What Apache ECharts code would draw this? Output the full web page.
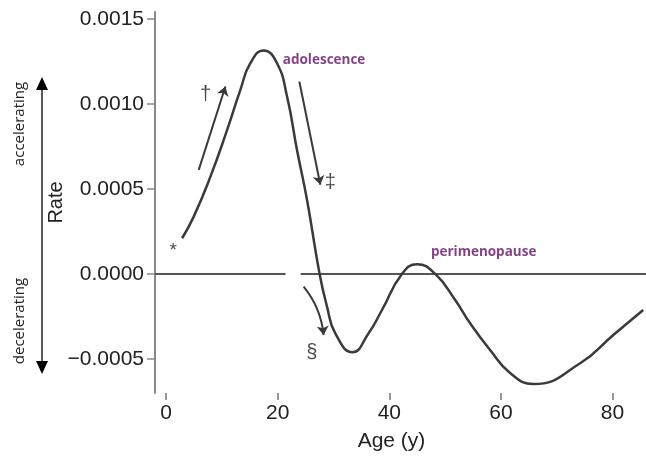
<!DOCTYPE html>
<html>
<head>
<meta charset="utf-8">
<script src="https://cdn.jsdelivr.net/npm/echarts@6/dist/echarts.min.js"></script>
<style>html,body{margin:0;padding:0;background:#fff}#c{width:646px;height:466px}</style>
</head>
<body>
<div id="c"></div>
<script>
// Curve samples
const ages  = [2.86, 4.94, 7.93, 10.93, 13.3, 15.09, 17.48, 19.87, 21.67, 23.45, 25.25, 27.5, 28.83, 30.31, 33.4, 36.28, 38.68, 42.26, 45.0, 48.22, 51.8, 54.48, 58.06, 61.64, 65.82, 74.2, 80.14, 85.5];
const rates = [0.00021, 0.000337, 0.000572, 0.000847, 0.001082, 0.001239, 0.001314, 0.001239, 0.001043, 0.000729, 0.000435, 0, -0.000192, -0.000349, -0.00046, -0.000349, -0.000212, 0, 0.000057, 0, -0.000153, -0.00029, -0.000447, -0.000582, -0.000647, -0.000525, -0.000359, -0.000212];
const xTicks = [0, 20, 40, 60, 80];
const yTicks = [-0.0005, 0, 0.0005, 0.001, 0.0015];
const yTickLabels = ['\u22120.0005', '0.0000', '0.0005', '0.0010', '0.0015'];
// zero reference line segments (with a gap)
const zeroSegments = [[[-2, 0], [21.4, 0]], [[24.1, 0], [86, 0]]];
// annotation arrows [start, end] in data units
const arrows = [
  {from: [5.84, 0.000612], to: [10.62, 0.001102], curve: 0},
  {from: [23.87, 0.001131], to: [27.63, 0.000524], curve: 0},
  {from: [24.64, -0.0000747], to: [28.22, -0.000359], curve: 0.15}
];
const symbolNotes = [
  {text: '\u2020', at: [7.04, 0.001053], size: 20},
  {text: '\u2021', at: [29.4, 0.000535], size: 20},
  {text: '\u00a7', at: [26.1, -0.000459], size: 20},
  {text: '*', at: [1.25, 0.000135], size: 19}
];
const phaseNotes = [
  {text: 'adolescence', at: [28.3, 0.001259]},
  {text: 'perimenopause', at: [56.9, 0.000129]}
];

const chart = echarts.init(document.getElementById('c'));
chart.setOption({
  animation: false,
  grid: {left: 155, right: 0, top: 12, bottom: 73, containLabel: false},
  xAxis: {
    type: 'value', min: -2, max: 86,
    name: 'Age (y)', nameLocation: 'middle', nameGap: 38, nameMoveOverlap: false,
    nameTextStyle: {fontFamily: 'Liberation Sans', fontSize: 21, color: '#222', padding: [0, 18, 0, 0]},
    axisLine: {show: false, onZero: false},
    axisTick: {show: true, customValues: xTicks, length: 7, lineStyle: {color: '#777', width: 1.5}},
    axisLabel: {customValues: xTicks, margin: 10, fontFamily: 'Liberation Sans', fontSize: 21, color: '#222'},
    splitLine: {show: false}
  },
  yAxis: {
    type: 'value', min: -0.0007, max: 0.00154,
    name: 'Rate', nameLocation: 'middle', nameGap: 89, nameMoveOverlap: false,
    nameTextStyle: {fontFamily: 'Liberation Sans', fontSize: 20, color: '#222'},
    axisLine: {show: true, onZero: false, lineStyle: {color: '#888', width: 2}},
    axisTick: {show: true, customValues: yTicks, length: 8, lineStyle: {color: '#888', width: 1.5}},
    axisLabel: {customValues: yTicks, margin: 11, fontFamily: 'Liberation Sans', fontSize: 21, color: '#222',
      formatter: v => { const i = yTicks.findIndex(t => Math.abs(t - v) < 1e-9); return i >= 0 ? yTickLabels[i] : ''; }},
    splitLine: {show: false}
  },
  series: [
    {
      type: 'lines', coordinateSystem: 'cartesian2d', silent: true,
      lineStyle: {color: '#555', width: 2, opacity: 1},
      data: zeroSegments.map(s => ({coords: s}))
    },
    {
      type: 'line', smooth: 0.5, showSymbol: false, silent: true,
      lineStyle: {color: '#3a3a3a', width: 2.5},
      data: ages.map((a, i) => [a, rates[i]])
    },
    {
      type: 'lines', coordinateSystem: 'cartesian2d', silent: true,
      symbol: ['none', 'arrow'], symbolSize: 9,
      lineStyle: {color: '#3a3a3a', width: 2, opacity: 1},
      data: arrows.map(a => ({coords: [a.from, a.to], lineStyle: {curveness: a.curve}}))
    },
    {
      type: 'scatter', symbolSize: 0, silent: true,
      label: {show: true, position: 'inside', formatter: p => p.data.text, color: '#1a1a1a', fontFamily: 'Liberation Sans'},
      data: symbolNotes.map(n => ({value: n.at, text: n.text, label: {fontSize: n.size}}))
    },
    {
      type: 'scatter', symbolSize: 0, silent: true,
      label: {show: true, position: 'inside', formatter: p => p.data.text, color: '#621068', fontFamily: 'Open Sans', fontWeight: 'bold', fontSize: 13.5},
      data: phaseNotes.map(n => ({value: n.at, text: n.text}))
    }
  ],
  graphic: [
    {type: 'line', shape: {x1: 42, y1: 88, x2: 42, y2: 363}, style: {stroke: '#222', lineWidth: 1.5}},
    {type: 'polygon', shape: {points: [[36, 90], [48, 90], [42, 77]]}, style: {fill: '#000'}},
    {type: 'polygon', shape: {points: [[36, 361], [48, 361], [42, 374]]}, style: {fill: '#000'}},
    {type: 'text', x: 20, y: 124, rotation: Math.PI / 2, style: {text: 'accelerating', fontFamily: 'Open Sans', fontSize: 15, fill: '#222', align: 'center', verticalAlign: 'middle'}},
    {type: 'text', x: 20, y: 321, rotation: Math.PI / 2, style: {text: 'decelerating', fontFamily: 'Open Sans', fontSize: 15, fill: '#222', align: 'center', verticalAlign: 'middle'}}
  ]
});
</script>
</body>
</html>
